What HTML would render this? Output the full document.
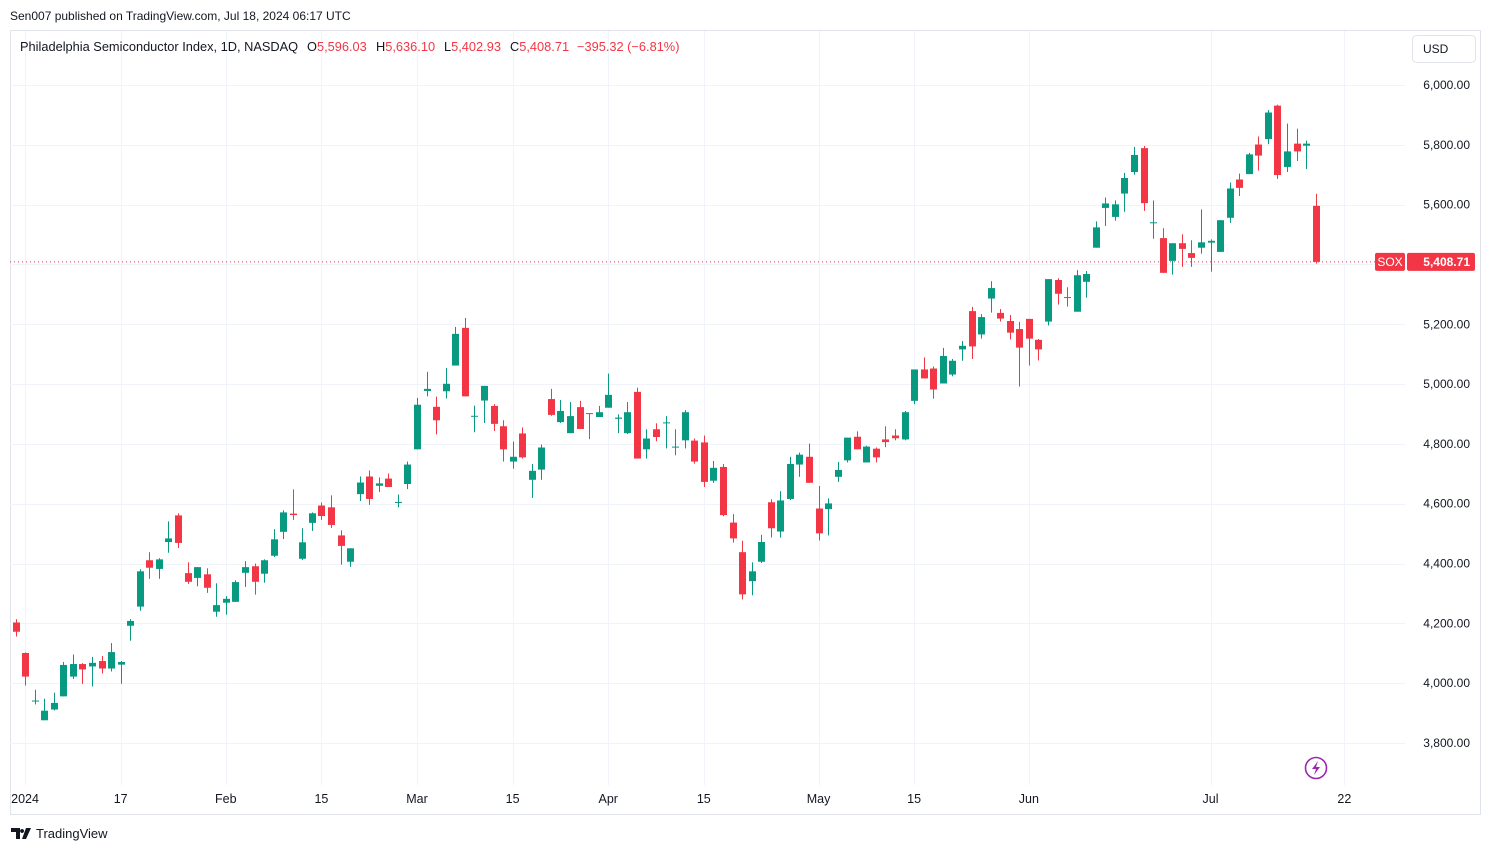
<!DOCTYPE html>
<html><head><meta charset="utf-8"><style>
html,body{margin:0;padding:0;background:#fff;width:1491px;height:853px;overflow:hidden;font-family:"Liberation Sans",sans-serif}
svg{display:block}
</style></head><body>
<svg id="chart" width="1491" height="853" xmlns="http://www.w3.org/2000/svg">
<text x="10" y="20" font-size="12" fill="#131722">Sen007 published on TradingView.com, Jul 18, 2024 06:17 UTC</text>
<rect x="10.5" y="30.5" width="1470" height="784" fill="none" stroke="#e0e3eb"/>
<g id="grid"></g>
<line x1="10" x2="1405" y1="262" y2="262" stroke="#f23645" stroke-dasharray="1,3" id="lastline"/>
<g id="candles"></g>
<g id="yaxis"></g>
<g id="xaxis"></g>
<text y="51" font-size="12.8"><tspan x="20" fill="#131722">Philadelphia Semiconductor Index, 1D, NASDAQ</tspan><tspan x="307" fill="#131722">O</tspan><tspan fill="#f23645">5,596.03</tspan><tspan x="376" fill="#131722">H</tspan><tspan fill="#f23645">5,636.10</tspan><tspan x="444" fill="#131722">L</tspan><tspan fill="#f23645">5,402.93</tspan><tspan x="510" fill="#131722">C</tspan><tspan fill="#f23645">5,408.71</tspan><tspan x="577" fill="#f23645">−395.32 (−6.81%)</tspan></text>
<rect x="1412.5" y="35.5" width="63" height="27" rx="4" fill="#fff" stroke="#e0e3eb"/>
<text x="1423" y="53" font-size="12" fill="#131722">USD</text>
<g id="lastlabel"></g>
<g><circle cx="1316" cy="768" r="10.5" fill="none" stroke="#9c27b0" stroke-width="1.6"/><path d="M1318 761 L1312 769 L1316 769 L1314 775 L1320 767 L1316 767 Z" fill="#9c27b0"/></g>
<g><path d="M11 828 h9 v11 h-4 v-7 h-5 z M22 829 a2 2 0 1 0 0.1 0 M26 828 h5 l-5 11 h-4 z" fill="#131722"/><text x="36" y="838" font-size="13" fill="#131722">TradingView</text></g>
</svg>
<script>
const dates=["Dec 29","Jan 2","Jan 3","Jan 4","Jan 5","Jan 8","Jan 9","Jan 10","Jan 11","Jan 12","Jan 16","Jan 17","Jan 18","Jan 19","Jan 22","Jan 23","Jan 24","Jan 25","Jan 26","Jan 29","Jan 30","Jan 31","Feb 1","Feb 2","Feb 5","Feb 6","Feb 7","Feb 8","Feb 9","Feb 12","Feb 13","Feb 14","Feb 15","Feb 16","Feb 20","Feb 21","Feb 22","Feb 23","Feb 26","Feb 27","Feb 28","Feb 29","Mar 1","Mar 4","Mar 5","Mar 6","Mar 7","Mar 8","Mar 11","Mar 12","Mar 13","Mar 14","Mar 15","Mar 18","Mar 19","Mar 20","Mar 21","Mar 22","Mar 25","Mar 26","Mar 27","Mar 28","Apr 1","Apr 2","Apr 3","Apr 4","Apr 5","Apr 8","Apr 9","Apr 10","Apr 11","Apr 12","Apr 15","Apr 16","Apr 17","Apr 18","Apr 19","Apr 22","Apr 23","Apr 24","Apr 25","Apr 26","Apr 29","Apr 30","May 1","May 2","May 3","May 6","May 7","May 8","May 9","May 10","May 13","May 14","May 15","May 16","May 17","May 20","May 21","May 22","May 23","May 24","May 28","May 29","May 30","May 31","Jun 3","Jun 4","Jun 5","Jun 6","Jun 7","Jun 10","Jun 11","Jun 12","Jun 13","Jun 14","Jun 17","Jun 18","Jun 20","Jun 21","Jun 24","Jun 25","Jun 26","Jun 27","Jun 28","Jul 1","Jul 2","Jul 3","Jul 5","Jul 8","Jul 9","Jul 10","Jul 11","Jul 12","Jul 15","Jul 16","Jul 17"];
const openV=[4203,4101,3940,3876,3912,3956,4022,4064,4056,4074,4049,4062,4192,4256,4411,4382,4472,4561,4368,4352,4364,4239,4269,4272,4369,4391,4366,4426,4506,4567,4416,4536,4594,4588,4494,4406,4632,4691,4660,4684,4603,4666,4782,4977,4924,4976,5062,5188,4893,4945,4927,4859,4741,4835,4680,4714,4950,4873,4836,4923,4903,4890,4921,4884,4836,4974,4782,4849,4870,4789,4812,4811,4805,4677,4723,4537,4438,4341,4406,4605,4507,4616,4731,4757,4584,4582,4690,4745,4824,4738,4784,4815,4828,4815,4944,5049,5052,5002,5032,5116,5244,5166,5286,5238,5211,5184,5218,5148,5209,5348,5291,5242,5342,5456,5589,5559,5637,5709,5789,5540,5488,5412,5471,5438,5456,5473,5442,5556,5684,5702,5801,5819,5931,5726,5804,5797,5596.03];
const highV=[4214,4103,3978,3948,3968,4071,4096,4067,4088,4091,4134,4074,4214,4381,4438,4418,4541,4568,4404,4388,4384,4334,4291,4344,4408,4400,4414,4515,4578,4648,4518,4571,4604,4628,4511,4451,4691,4711,4688,4701,4631,4741,4954,5041,4958,5054,5191,5221,4928,4994,4933,4879,4808,4855,4733,4798,4984,4947,4940,4944,4903,4927,5035,4899,4940,4988,4849,4869,4893,4849,4913,4818,4828,4743,4733,4565,4476,4404,4496,4615,4642,4757,4771,4801,4659,4618,4740,4821,4842,4794,4788,4859,4849,4910,5049,5089,5059,5121,5084,5144,5258,5234,5344,5251,5231,5208,5218,5151,5351,5354,5324,5381,5378,5544,5624,5614,5706,5793,5796,5614,5521,5471,5501,5481,5584,5484,5548,5674,5704,5773,5828,5916,5934,5871,5854,5814,5636.10];
const lowV=[4156,3992,3929,3876,3909,3956,4014,3998,3989,4032,4039,3998,4142,4242,4349,4349,4436,4452,4332,4324,4302,4222,4229,4272,4322,4296,4336,4422,4482,4546,4412,4509,4546,4519,4396,4389,4609,4596,4639,4656,4588,4649,4782,4959,4832,4952,5062,4959,4839,4870,4843,4741,4717,4751,4619,4680,4894,4870,4836,4850,4816,4890,4921,4836,4833,4751,4751,4809,4785,4762,4785,4734,4656,4670,4558,4470,4280,4294,4402,4487,4487,4612,4690,4670,4477,4494,4673,4738,4782,4738,4738,4789,4812,4812,4933,5019,4951,5002,5026,5078,5084,5152,5239,5209,5149,4992,5062,5079,5196,5266,5259,5242,5289,5456,5529,5546,5576,5700,5579,5486,5372,5366,5392,5392,5436,5376,5442,5539,5629,5702,5714,5802,5686,5709,5746,5719,5402.93];
const closeV=[4172,4022,3942,3908,3934,4061,4064,4046,4068,4049,4104,4071,4208,4374,4386,4414,4484,4469,4339,4388,4319,4261,4282,4338,4388,4339,4411,4481,4571,4562,4471,4568,4559,4529,4459,4451,4671,4616,4668,4656,4606,4731,4931,4984,4879,5001,5168,4959,4894,4994,4867,4782,4757,4755,4710,4788,4897,4910,4893,4850,4901,4906,4964,4888,4906,4751,4818,4823,4872,4791,4906,4741,4673,4720,4562,4484,4297,4374,4472,4518,4611,4733,4764,4670,4501,4601,4713,4821,4782,4791,4755,4806,4819,4906,5049,5019,4982,5094,5078,5128,5126,5224,5321,5219,5172,5122,5152,5116,5351,5302,5289,5364,5368,5524,5604,5601,5689,5766,5605,5541,5372,5471,5452,5422,5474,5479,5548,5654,5656,5768,5764,5908,5699,5778,5778,5804,5408.71];
const priceTicks=[3800,4000,4200,4400,4600,4800,5000,5200,5400,5600,5800,6000];
const timeTickIdx=[1,11,22,32,42,52,62,72,84,94,106,125,139];
const timeTickLabels=["2024","17","Feb","15","Mar","15","Apr","15","May","15","Jun","Jul","22"];

const NS="http://www.w3.org/2000/svg";
const x=i=>15.5+i*9.56;
const y=v=>85+(6000-v)*0.29909;
function mk(tag,attrs,parent){const e=document.createElementNS(NS,tag);for(const k in attrs)e.setAttribute(k,attrs[k]);parent.appendChild(e);return e;}
const grid=document.getElementById('grid'),ya=document.getElementById('yaxis'),xa=document.getElementById('xaxis'),cg=document.getElementById('candles');
const fmt=v=>v.toLocaleString('en-US',{minimumFractionDigits:2,maximumFractionDigits:2});
priceTicks.forEach(p=>{
  const l=mk('line',{x1:10,x2:1405,y1:Math.round(y(p))+0.5,y2:Math.round(y(p))+0.5,stroke:'#f0f3fa'},grid);
  
  
  const t=mk('text',{x:1470,y:y(p)+4,'font-size':12,fill:'#131722','text-anchor':'end'},ya);
  t.textContent=fmt(p);
  
  
});
timeTickIdx.forEach((ix,k)=>{
  const l=mk('line',{x1:Math.round(x(ix))+0.5,x2:Math.round(x(ix))+0.5,y1:31,y2:785,stroke:'#f0f3fa'},grid);
  
  
  const t=mk('text',{x:x(ix),y:803,'font-size':12.5,fill:'#131722','text-anchor':'middle'},xa);
  t.textContent=timeTickLabels[k];
  
  
});
dates.forEach((d,i)=>{
  const o=openV[i],c=closeV[i],h=highV[i],lo=lowV[i];
  const col=c>=o?'#089981':'#f23645';
  const g=mk('g',{},cg);
  
  
  const cx=Math.round(x(i));
  mk('rect',{x:cx,y:y(h),width:1,height:Math.max(1,y(lo)-y(h)),fill:col},g);
  const top=y(Math.max(o,c)),bot=y(Math.min(o,c));
  mk('rect',{x:cx-3,y:top,width:7,height:Math.max(1,bot-top),fill:col},g);
});
const last=closeV[closeV.length-1];
const ly=y(last);
const ll=document.getElementById('lastline');ll.setAttribute('y1',ly);ll.setAttribute('y2',ly);
const lg=document.getElementById('lastlabel');
mk('rect',{x:1375,y:ly-9,width:30,height:18,rx:2,fill:'#f23645'},lg);
mk('rect',{x:1407,y:ly-9,width:68,height:18,rx:2,fill:'#f23645'},lg);
const s=mk('text',{x:1390,y:ly+4,'font-size':12,fill:'#fff','text-anchor':'middle'},lg);s.textContent='SOX';


const pv=mk('text',{x:1470,y:ly+4,'font-size':12,fill:'#fff','text-anchor':'end','font-weight':'bold'},lg);pv.textContent=fmt(last);


</script>
</body></html>
